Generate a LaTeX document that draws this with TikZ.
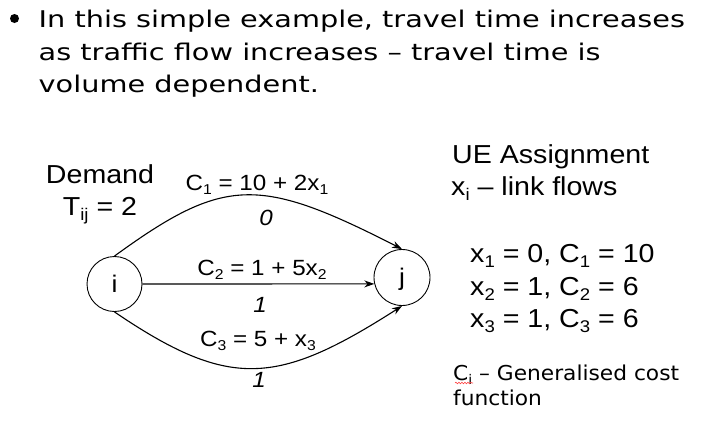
\documentclass[tikz,border=0pt]{standalone}
\usepackage{fontspec}
\setmainfont{Liberation Sans}[FakeStretch=1.1]
\newfontfamily\verdw{DejaVu Sans}[FakeStretch=1.25]
\newfontfamily\verd{DejaVu Sans}[FakeStretch=1.06]
\usetikzlibrary{arrows.meta,decorations.pathmorphing}
\newcommand\lsb[1]{\raisebox{-0.2em}{\scalebox{0.65}{#1}}}
\newcommand\fsz[1]{\fontsize{#1}{#1}\selectfont}
\begin{document}
\begin{tikzpicture}[x=1pt,y=-1pt,
  txt/.style={inner sep=0pt, anchor=base},
  ltxt/.style={inner sep=0pt, anchor=base west},
  bigf/.style={font=\fsz{26}},
  labf/.style={font=\fsz{22}},
  itf/.style={font=\fsz{22}\itshape},
  topf/.style={font=\verdw\fsz{23}},
  notef/.style={font=\verd\fsz{20.5}},
  vert/.style={draw, circle, line width=0.9pt, inner sep=0pt, font=\fsz{24},
    text height=16pt, text depth=0pt},
  link/.style={line width=1.1pt, -{Stealth[length=10pt,width=7pt]}}]
\useasboundingbox (0,0) rectangle (706,426);
% top bullet text
\node[circle, fill, inner sep=0pt, minimum size=9pt] (bul) at (14.5,18.5) {};
\node[ltxt,topf] (t1) at (38.5,27) {In this simple example, travel time increases};
\node[ltxt,topf] (t2) at (38.5,60) {as traffic flow increases \textendash{} travel time is};
\node[ltxt,topf] (t3) at (38.5,92.5) {volume dependent.};
% network
\node[vert, minimum size=55pt] (i) at (114.5,284) {i};
\node[vert, minimum size=56pt] (j) at (402,277.5) {j};
\draw[link] (i.north) .. controls +(110,-80) and +(-143,-73) .. (j.north);
\draw[link] (i.east) -- (j.193);
\draw[link] (i.south) .. controls +(115,78) and +(-125,80) .. (j.south);
% link labels
\node[txt,labf] (c1) at (257,190) {C\lsb{1} = 10 + 2x\lsb{1}};
\node[txt,itf] (f1) at (266,225) {0};
\node[txt,labf] (c2) at (262,275) {C\lsb{2} = 1 + 5x\lsb{2}};
\node[txt,itf] (f2) at (260,312) {1};
\node[txt,labf] (c3) at (258,346) {C\lsb{3} = 5 + x\lsb{3}};
\node[txt,itf] (f3) at (259,387.5) {1};
% demand
\node[txt,bigf] (dem) at (100,183) {Demand};
\node[txt,bigf] (tij) at (100,215) {T\lsb{ij} = 2};
% right panel
\node[ltxt,bigf] (ue) at (452,163) {UE Assignment};
\node[ltxt,bigf] (lf) at (451,195) {x\lsb{i} \textendash{} link flows};
\node[ltxt,bigf] (r1) at (470,262) {x\lsb{1} = 0, C\lsb{1} = 10};
\node[ltxt,bigf] (r2) at (470,295) {x\lsb{2} = 1, C\lsb{2} = 6};
\node[ltxt,bigf] (r3) at (470,327) {x\lsb{3} = 1, C\lsb{3} = 6};
\node[ltxt,notef] (n1) at (453,380) {C\lsb{i} \textendash{} Generalised cost};
\node[ltxt,notef] (n2) at (453,405) {function};
\draw[red!75, line width=0.6pt, decorate, decoration={snake,amplitude=0.8pt,segment length=3pt}]
  ([xshift=2pt,yshift=-3pt]n1.base west) -- ([xshift=20pt,yshift=-3pt]n1.base west);
\end{tikzpicture}
\end{document}
